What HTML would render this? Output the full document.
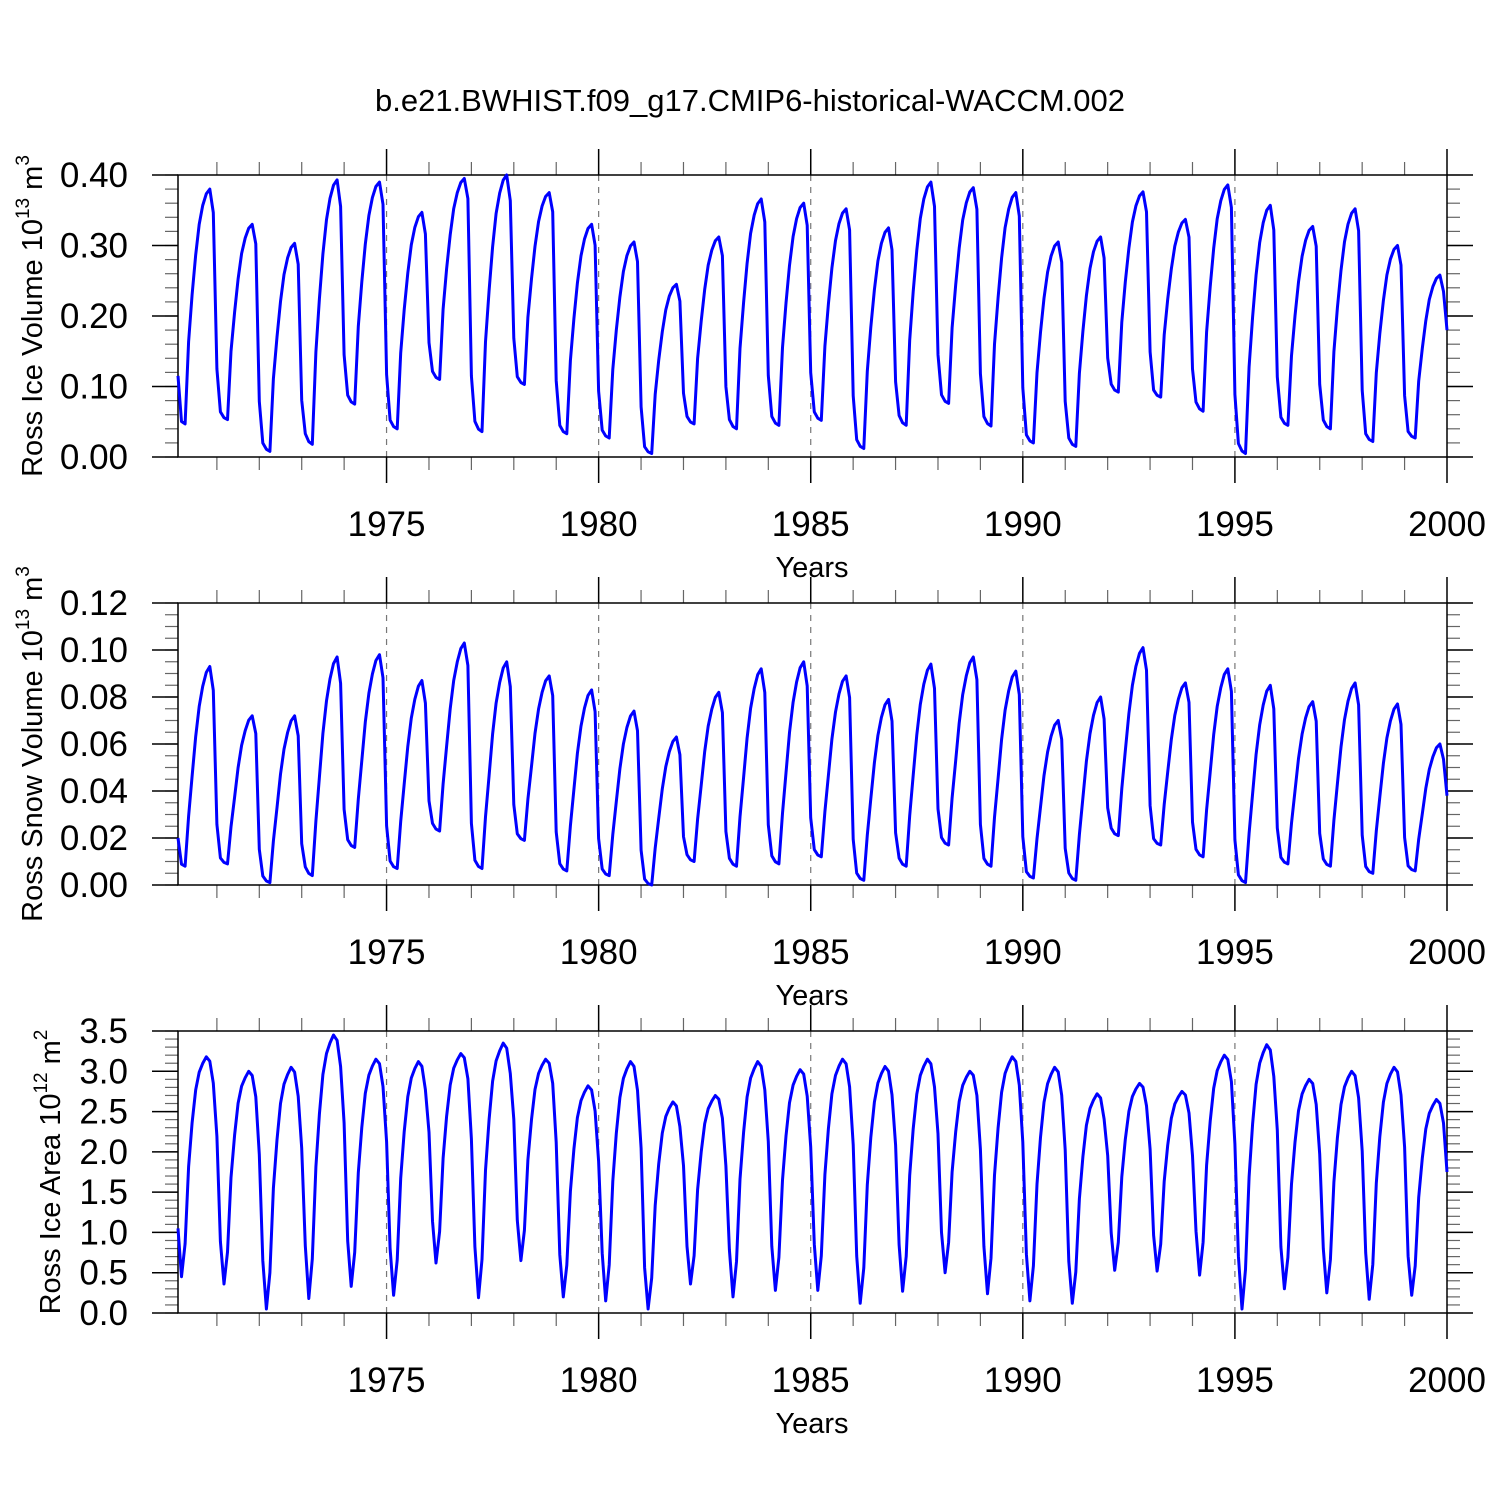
<!DOCTYPE html>
<html><head><meta charset="utf-8">
<style>
html,body{margin:0;padding:0;background:#fff;}
svg{display:block;font-family:"Liberation Sans",Arial,sans-serif;}
</style></head>
<body>
<svg id="chart" width="1500" height="1500" viewBox="0 0 1500 1500">
<text x="750" y="111" text-anchor="middle" font-size="31" fill="#000">b.e21.BWHIST.f09_g17.CMIP6-historical-WACCM.002</text>
</svg>
<script>
// ---- data ----
const years = [1970,1971,1972,1973,1974,1975,1976,1977,1978,1979,1980,1981,1982,1983,1984,1985,1986,1987,1988,1989,1990,1991,1992,1993,1994,1995,1996,1997,1998,1999];
const xTickLabels = ["1975","1980","1985","1990","1995","2000"];
// ice volume yearly min / max (10^13 m^3)
const iceVolMin = [0.047,0.053,0.008,0.018,0.075,0.040,0.110,0.036,0.103,0.033,0.027,0.005,0.047,0.040,0.045,0.052,0.012,0.045,0.076,0.044,0.020,0.015,0.092,0.085,0.065,0.005,0.045,0.040,0.022,0.027];
const iceVolMax = [0.380,0.330,0.303,0.393,0.390,0.347,0.395,0.400,0.375,0.330,0.305,0.245,0.312,0.366,0.360,0.352,0.325,0.390,0.382,0.375,0.305,0.312,0.376,0.337,0.386,0.357,0.327,0.352,0.300,0.258];
const iceVolFirst = 0.115, iceVolLast = 0.18;
// snow volume yearly min / max
const snowMin = [0.008,0.009,0.001,0.004,0.016,0.007,0.023,0.007,0.019,0.006,0.004,0.000,0.010,0.008,0.009,0.012,0.002,0.008,0.017,0.008,0.003,0.002,0.021,0.017,0.012,0.001,0.009,0.008,0.005,0.006];
const snowMax = [0.093,0.072,0.072,0.097,0.098,0.087,0.103,0.095,0.089,0.083,0.074,0.063,0.082,0.092,0.095,0.089,0.079,0.094,0.097,0.091,0.070,0.080,0.101,0.086,0.092,0.085,0.078,0.086,0.077,0.060];
const snowFirst = 0.020, snowLast = 0.038;
// ice area yearly min / max (10^12 m^2)
const areaMin = [0.45,0.36,0.05,0.18,0.33,0.22,0.62,0.19,0.65,0.20,0.15,0.05,0.36,0.20,0.28,0.28,0.12,0.27,0.50,0.24,0.15,0.12,0.53,0.52,0.47,0.05,0.30,0.25,0.17,0.22];
const areaMax = [3.18,3.00,3.05,3.45,3.15,3.12,3.22,3.35,3.15,2.82,3.12,2.62,2.70,3.12,3.02,3.15,3.06,3.15,3.00,3.18,3.05,2.72,2.85,2.75,3.20,3.33,2.90,3.00,3.05,2.65];
const areaFirst = 1.05, areaLast = 1.75;
// climatological seasonal fraction (Jan..Dec) between yearly min and max
const volSeason = [0.04,0.01,0.0,0.35,0.55,0.72,0.85,0.93,0.98,1.0,0.9,0.22];
const snowSeason = [0.04,0.01,0.0,0.25,0.45,0.65,0.8,0.9,0.97,1.0,0.88,0.2];
const areaSeason = [0.2,0.0,0.15,0.5,0.7,0.85,0.93,0.97,1.0,0.98,0.88,0.65];
const vol13Ticks = ["0.00","0.10","0.20","0.30","0.40"];
const snowTicks = ["0.00","0.02","0.04","0.06","0.08","0.10","0.12"];
const areaTicks = ["0.0","0.5","1.0","1.5","2.0","2.5","3.0","3.5"];

function buildSeries(mn, mx, season, first, last){
  const out=[];
  for(let y=0;y<years.length;y++){
    for(let m=0;m<12;m++){
      const base = (m===11 && y+1<mn.length) ? mn[y+1] : mn[y];
      out.push({t: years[y]+(m+1)/12, v: base+(mx[y]-base)*season[m]});
    }
  }
  out[0].v=first; out[out.length-1].v=last;
  return out;
}

const NS="http://www.w3.org/2000/svg";
const svg=document.getElementById('chart');
function el(tag, attrs, parent){
  const e=document.createElementNS(NS,tag);
  for(const k in attrs) e.setAttribute(k, attrs[k]);
  (parent||svg).appendChild(e); return e;
}
const X0=178, X1=1447, T0=1970+1/12, T1=2000;
const xs = t => X0+(t-T0)/(T1-T0)*(X1-X0);

function panel(cfg){
  const g=el('g',{});
  
  
  const top=cfg.top, bot=cfg.bot;
  const ys = v => bot-(v-cfg.vmin)/(cfg.vmax-cfg.vmin)*(bot-top);
  for(let yr=1975; yr<2000; yr+=5){
    const gl=el('line',{x1:xs(yr),x2:xs(yr),y1:top,y2:bot,stroke:'#777','stroke-width':1.2,'stroke-dasharray':'6,6'},g);
    
    
  }
  for(let yr=1971; yr<2000; yr++){
    if(yr%5===0) continue;
    el('line',{x1:xs(yr),x2:xs(yr),y1:top-13,y2:top,stroke:'#666','stroke-width':1.2},g);
    el('line',{x1:xs(yr),x2:xs(yr),y1:bot,y2:bot+13,stroke:'#666','stroke-width':1.2},g);
  }
  xTickLabels.forEach(lab=>{
    const x=xs(+lab);
    el('line',{x1:x,x2:x,y1:top-26,y2:top,stroke:'#000','stroke-width':1.5},g);
    el('line',{x1:x,x2:x,y1:bot,y2:bot+26,stroke:'#000','stroke-width':1.5},g);
    const t=el('text',{x:x,y:bot+79,'text-anchor':'middle','font-size':35},g);
    t.textContent=lab;
    
    
  });
  const xt=el('text',{x:812,y:bot+120,'text-anchor':'middle','font-size':29},g);
  xt.textContent='Years';
  
  
  const nMinor=Math.round((cfg.vmax-cfg.vmin)/cfg.minor);
  for(let i=0;i<=nMinor;i++){
    const y=ys(cfg.vmin+i*cfg.minor);
    el('line',{x1:X0-13,x2:X0,y1:y,y2:y,stroke:'#666','stroke-width':1.2},g);
    el('line',{x1:X1,x2:X1+13,y1:y,y2:y,stroke:'#666','stroke-width':1.2},g);
  }
  cfg.ticks.forEach(lab=>{
    const y=ys(+lab);
    el('line',{x1:X0-26,x2:X0,y1:y,y2:y,stroke:'#000','stroke-width':1.5},g);
    el('line',{x1:X1,x2:X1+26,y1:y,y2:y,stroke:'#000','stroke-width':1.5},g);
    const t=el('text',{x:128,y:y+12,'text-anchor':'end','font-size':35},g);
    t.textContent=lab;
    
    
  });
  el('rect',{x:X0,y:top,width:X1-X0,height:bot-top,fill:'none',stroke:'#000','stroke-width':1.5},g);
  const cy=(top+bot)/2;
  const yt=el('text',{x:0,y:0,'text-anchor':'middle','font-size':29,transform:`translate(${cfg.titleX},${cy}) rotate(-90)`},g);
  yt.innerHTML=cfg.title;
  
  
  const pts=cfg.data.map(d=>xs(d.t).toFixed(1)+','+ys(d.v).toFixed(1)).join(' ');
  const pl=el('polyline',{points:pts,fill:'none',stroke:'#0000ff','stroke-width':3,'stroke-linejoin':'round'},g);
  
  
}

panel({name:'ice-volume-panel',top:175,bot:457,vmin:0,vmax:0.4,minor:0.02,ticks:vol13Ticks,titleX:42,
  title:'Ross Ice Volume 10<tspan dy="-13" font-size="19">13</tspan><tspan dy="13"> m</tspan><tspan dy="-13" font-size="19">3</tspan>',
  data:buildSeries(iceVolMin,iceVolMax,volSeason,iceVolFirst,iceVolLast)});
panel({name:'snow-volume-panel',top:603,bot:885,vmin:0,vmax:0.12,minor:0.005,ticks:snowTicks,titleX:42,
  title:'Ross Snow Volume 10<tspan dy="-13" font-size="19">13</tspan><tspan dy="13"> m</tspan><tspan dy="-13" font-size="19">3</tspan>',
  data:buildSeries(snowMin,snowMax,snowSeason,snowFirst,snowLast)});
panel({name:'ice-area-panel',top:1031,bot:1313,vmin:0,vmax:3.5,minor:0.1,ticks:areaTicks,titleX:60,
  title:'Ross Ice Area 10<tspan dy="-13" font-size="19">12</tspan><tspan dy="13"> m</tspan><tspan dy="-13" font-size="19">2</tspan>',
  data:buildSeries(areaMin,areaMax,areaSeason,areaFirst,areaLast)});
</script>
</body></html>
